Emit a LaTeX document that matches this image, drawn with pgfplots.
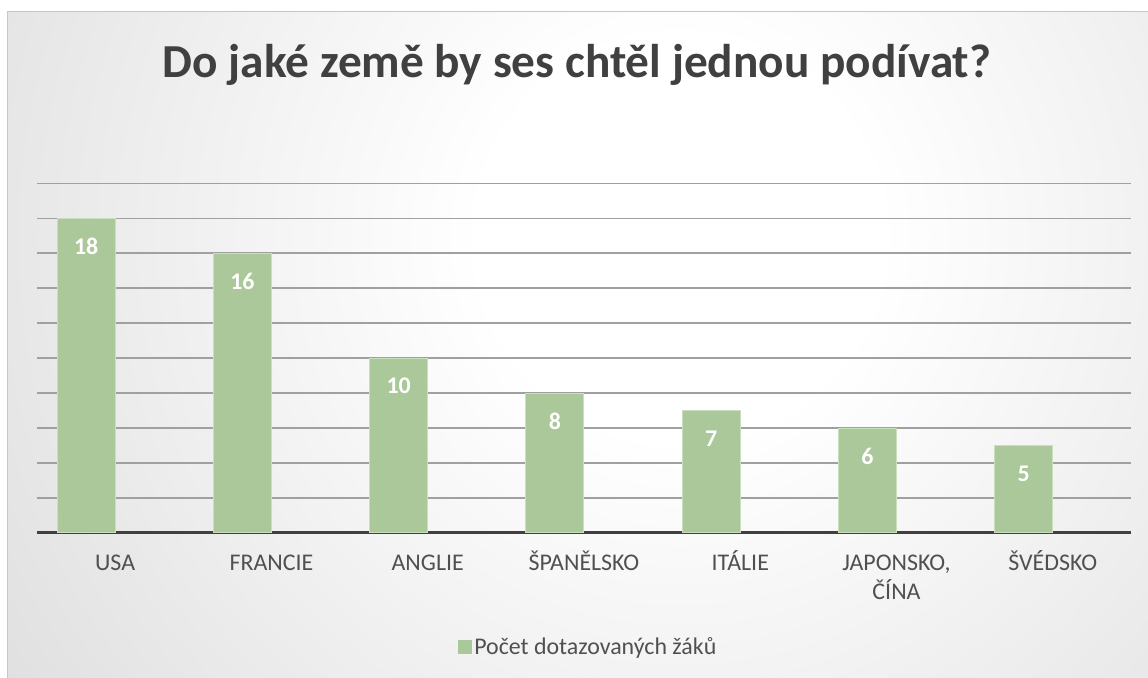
\documentclass[border=0pt]{standalone}
\usepackage{pgfplots}
\pgfplotsset{compat=1.18}
\usepackage{fontspec}
\setmainfont{Carlito}
\definecolor{barfill}{RGB}{170,200,153}
\definecolor{baredge}{RGB}{200,224,188}
\definecolor{titlegray}{RGB}{64,64,64}
\definecolor{labelgray}{RGB}{80,80,80}
\definecolor{gridgray}{RGB}{160,160,160}
\definecolor{axisdark}{RGB}{64,64,64}
\definecolor{bgout}{RGB}{198,198,198}
\pgfdeclareradialshading{bgshade}{\pgfpoint{0bp}{0bp}}{color(0bp)=(white); color(5bp)=(white); color(33bp)=(bgout); color(50bp)=(bgout)}
\begin{document}
\begin{tikzpicture}
\path[use as bounding box] (0,0) rectangle (1148bp,678bp);
\fill[white] (0,0) rectangle (1148bp,678bp);
\begin{scope}
\clip (7bp,0bp) rectangle (1148bp,666bp);
\shade[shading=bgshade] (680bp,440bp) circle (1000bp);
\end{scope}
\draw[gray!45, line width=1bp] (7bp,0bp) -- (7bp,666bp) -- (1148bp,666bp);
\node[anchor=base, font=\bfseries\fontsize{47.5}{52}\selectfont, text=titlegray] at (577bp,600bp) {Do jaké země by ses chtěl jednou podívat?};
\begin{axis}[
  at={(37bp,145bp)}, anchor=south west,
  scale only axis, width=1094bp, height=349.7bp,
  xmin=-0.5, xmax=6.5, ymin=0, ymax=20,
  ybar, bar width=58bp, bar shift=-29bp,
  /pgf/number format/assume math mode=true,
  xtick={0,...,6},
  xticklabels={USA,FRANCIE,ANGLIE,ŠPANĚLSKO,ITÁLIE,{\begin{tabular}[t]{@{}c@{}}JAPONSKO,\\ČÍNA\end{tabular}},ŠVÉDSKO},
  xticklabel style={font=\fontsize{24}{27}\selectfont, text=labelgray, anchor=base, yshift=-38bp},
  ytick={0,2,...,20}, yticklabels={},
  ymajorgrids, grid style={gridgray, line width=1.5bp},
  axis x line*=bottom, axis y line*=left,
  y axis line style={draw=none},
  x axis line style={draw=axisdark, line width=3bp},
  major tick length=0pt, tick style={draw=none},
  nodes near coords,
  every node near coord/.append style={anchor=center, yshift=-28bp, font=\bfseries\fontsize{24}{24}\selectfont, text=white},
  legend style={at={(0.504,-0.326)}, anchor=center, draw=none, fill=none, font=\fontsize{24}{27}\selectfont, text=labelgray},
  legend image code/.code={\fill[barfill] (0bp,-6.5bp) rectangle (13bp,6.5bp);},
]
\addplot[fill=barfill, draw=baredge, line width=1bp] coordinates {(0,18) (1,16) (2,10) (3,8) (4,7) (5,6) (6,5)};
\addlegendentry{Počet dotazovaných žáků}
\end{axis}
\end{tikzpicture}
\end{document}
